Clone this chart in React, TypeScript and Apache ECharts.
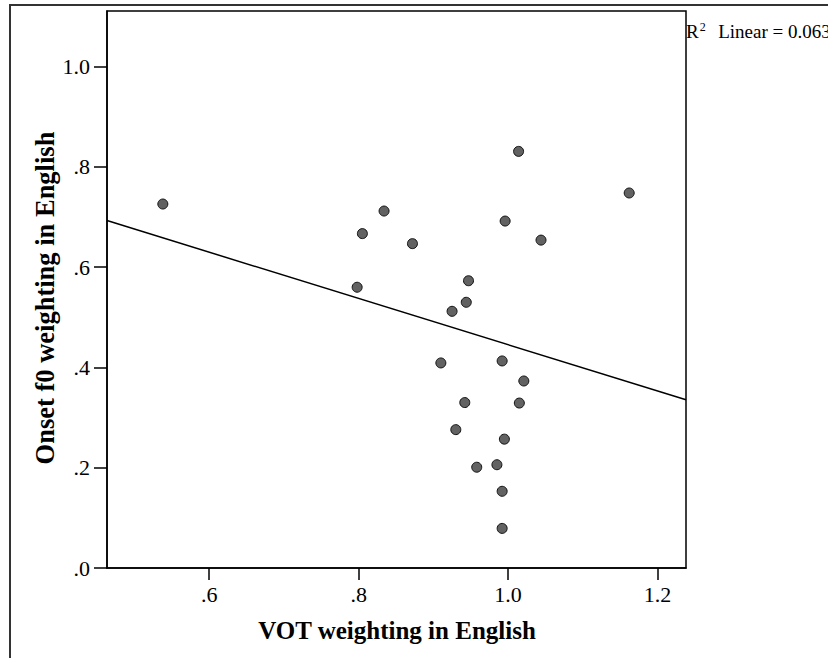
import React, { useEffect, useRef } from "react";
import * as echarts from "echarts";

const vot = [0.538, 0.798, 0.805, 0.834, 0.872, 0.947, 0.944, 0.925, 1.014, 0.996, 1.044, 1.162, 0.910, 0.992, 1.021, 0.942, 1.015, 0.930, 0.995, 0.958, 0.985, 0.992, 0.992];
const onset = [0.726, 0.560, 0.667, 0.712, 0.647, 0.573, 0.530, 0.512, 0.831, 0.692, 0.654, 0.748, 0.409, 0.413, 0.373, 0.330, 0.329, 0.276, 0.257, 0.201, 0.206, 0.153, 0.079];
const fitLineX = [0.4633, 1.238];
const fitLineY = [0.693, 0.3356];
const xTicks = [0.6, 0.8, 1.0, 1.2];
const yTicks = [0, 0.2, 0.4, 0.6, 0.8, 1.0];
const xTitle = "VOT weighting in English";
const yTitle = "Onset f0 weighting in English";
const r2Text = "0.063";

const fmt = (v: number) => {
  const s = Number(v).toFixed(1);
  return s.startsWith("0") ? s.slice(1) : s;
};

export default function App() {
  const ref = useRef<HTMLDivElement>(null);
  useEffect(() => {
    document.body.style.margin = "0";
    const chart = echarts.init(ref.current!, null, { renderer: "svg" });
    const serif = "'Liberation Serif', 'Times New Roman', serif";
    chart.setOption({
      animation: false,
      backgroundColor: "#ffffff",
      grid: {
        left: 107,
        top: 11,
        right: 142,
        bottom: 90,
        show: true,
        borderColor: "#000",
        borderWidth: 1.5,
        backgroundColor: "transparent",
      },
      xAxis: {
        type: "value",
        min: fitLineX[0],
        max: fitLineX[1],
        splitLine: { show: false },
        axisLine: { show: true, lineStyle: { color: "#000", width: 1.5 } },
        axisTick: { show: true, length: 12, customValues: xTicks, lineStyle: { color: "#000", width: 1.5 } },
        axisLabel: {
          customValues: xTicks,
          formatter: fmt,
          margin: 15,
          color: "#000",
          fontFamily: serif,
          fontSize: 22,
        },
      },
      yAxis: {
        type: "value",
        min: 0,
        max: 1.111,
        splitLine: { show: false },
        axisLine: { show: true, lineStyle: { color: "#000", width: 1.5 } },
        axisTick: { show: true, length: 13, customValues: yTicks, lineStyle: { color: "#000", width: 1.5 } },
        axisLabel: {
          customValues: yTicks,
          formatter: fmt,
          margin: 17,
          color: "#000",
          fontFamily: serif,
          fontSize: 22,
        },
      },
      series: [
        {
          type: "line",
          data: fitLineX.map((x, i) => [x, fitLineY[i]]),
          symbol: "none",
          lineStyle: { color: "#000", width: 1.5 },
          z: 2,
        },
        {
          type: "scatter",
          data: vot.map((x, i) => [x, onset[i]]),
          symbol: "circle",
          symbolSize: 10,
          itemStyle: { color: "#626262", borderColor: "#111", borderWidth: 1, opacity: 1 },
          z: 3,
        },
      ],
      graphic: [
        {
          type: "rect",
          shape: { x: 10, y: 5, width: 900, height: 800 },
          style: { fill: "none", stroke: "#333", lineWidth: 2 },
          silent: true,
        },
        {
          type: "text",
          x: 397,
          y: 630,
          style: {
            text: xTitle,
            fontFamily: serif,
            fontWeight: "bold",
            fontSize: 25,
            fill: "#000",
            align: "center",
            verticalAlign: "middle",
          },
        },
        {
          type: "text",
          x: 45,
          y: 298,
          rotation: Math.PI / 2,
          style: {
            text: yTitle,
            fontFamily: serif,
            fontWeight: "bold",
            fontSize: 26.5,
            fill: "#000",
            align: "center",
            verticalAlign: "middle",
          },
        },
        {
          type: "text",
          x: 686,
          y: 31,
          style: {
            text: "{r|R}{sup|2}{r|  Linear = " + r2Text + "}",
            rich: {
              r: { fontFamily: serif, fontSize: 19, fill: "#000", verticalAlign: "middle" },
              sup: { fontFamily: serif, fontSize: 12, fill: "#000", padding: [0, 3, 9, 1] },
            },
            fontFamily: serif,
            fontSize: 19,
            fill: "#000",
            align: "left",
            verticalAlign: "middle",
          },
        },
      ],
    });
    return () => chart.dispose();
  }, []);
  return <div ref={ref} style={{ width: 828, height: 658, position: "absolute", left: 0, top: 0 }} />;
}
